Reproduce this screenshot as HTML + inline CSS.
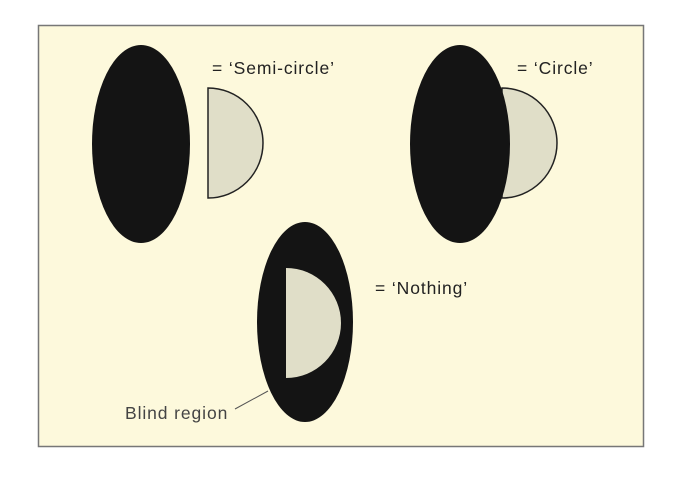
<!DOCTYPE html>
<html><head><style>body{margin:0;background:#fff}</style></head><body>
<svg width="673" height="472" xmlns="http://www.w3.org/2000/svg" font-family="Liberation Sans, sans-serif">
<rect x="38.5" y="25.5" width="605" height="421" fill="#fdf9dc" stroke="#777" stroke-width="1.5"/>
<ellipse cx="141" cy="144" rx="49" ry="99" fill="#141414"/>
<path d="M208 88 A55 55 0 0 1 208 198 Z" fill="#e0dec8" stroke="#222" stroke-width="1.5"/>
<path d="M502 88 A55 55 0 0 1 502 198 Z" fill="#e0dec8" stroke="#222" stroke-width="1.5"/>
<ellipse cx="460" cy="144" rx="50" ry="99" fill="#141414"/>
<ellipse cx="305" cy="322" rx="48" ry="100" fill="#141414"/>
<path d="M286 268 A55 55 0 0 1 286 378 Z" fill="#e0dec8"/>
<line x1="235" y1="409" x2="268" y2="391" stroke="#555" stroke-width="1"/>
<g font-size="17.5" fill="#222" letter-spacing="0.9">
<text x="212" y="74">= ‘Semi-circle’</text>
<text x="517" y="74">= ‘Circle’</text>
<text x="375" y="294">= ‘Nothing’</text>
<text x="125" y="419" fill="#444">Blind region</text>
</g>
</svg>
</body></html>
